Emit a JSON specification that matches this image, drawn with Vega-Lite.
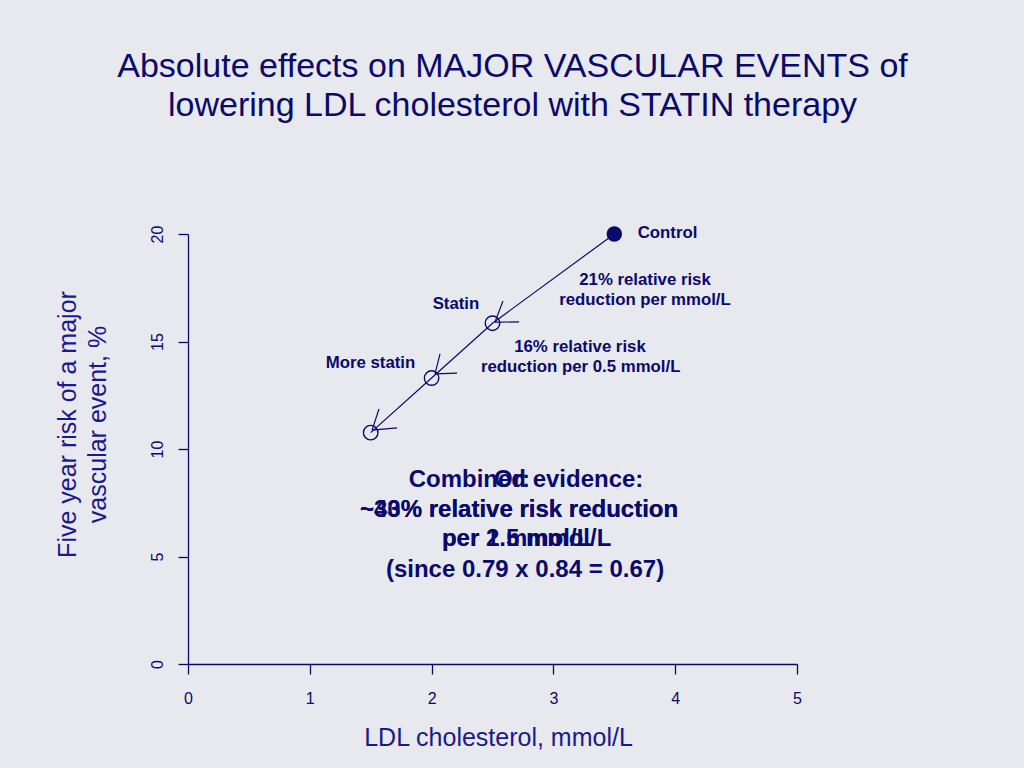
{
  "$schema": "https://vega.github.io/schema/vega-lite/v6.json",
  "width": 609,
  "height": 430,
  "autosize": {"type": "none"},
  "padding": {"left": 188, "top": 234, "right": 227, "bottom": 104},
  "background": "#E8E8EF",
  "title": {
    "text": ["Absolute effects on MAJOR VASCULAR EVENTS of", "lowering LDL cholesterol with STATIN therapy"],
    "font": "Liberation Sans",
    "fontSize": 34,
    "fontWeight": "normal",
    "color": "#0A0A6A",
    "lineHeight": 39,
    "anchor": "middle",
    "frame": "group",
    "offset": 102,
    "dx": 20
  },
  "config": {
    "view": {"stroke": null},
    "axis": {
      "domainColor": "#0A0A6A",
      "domainWidth": 1.3,
      "tickColor": "#0A0A6A",
      "tickWidth": 1.3,
      "tickSize": 10,
      "labelColor": "#0A0A6A",
      "labelFont": "Liberation Sans",
      "labelFontSize": 16,
      "labelFlush": false,
      "titleFont": "Liberation Sans",
      "titleFontSize": 25,
      "titleFontWeight": "normal",
      "titleColor": "#1A1A8C",
      "grid": false
    }
  },
  "datasets": {
    "curve": [
      {"x": 3.5, "y": 20},
      {"x": 2.5, "y": 15.85},
      {"x": 2.0, "y": 13.3},
      {"x": 1.5, "y": 10.76}
    ],
    "points": [
      {"x": 3.5, "y": 20, "group": "Control"},
      {"x": 2.5, "y": 15.85, "group": "Statin"},
      {"x": 2.0, "y": 13.3, "group": "More statin"},
      {"x": 1.5, "y": 10.76, "group": "Most statin"}
    ],
    "arrows": [
      {"x": 2.52, "y": 15.9, "x2": 2.586, "y2": 16.88},
      {"x": 2.52, "y": 15.9, "x2": 2.718, "y2": 15.91},
      {"x": 2.028, "y": 13.49, "x2": 2.069, "y2": 14.42},
      {"x": 2.028, "y": 13.49, "x2": 2.209, "y2": 13.53},
      {"x": 1.511, "y": 10.88, "x2": 1.568, "y2": 11.86},
      {"x": 1.511, "y": 10.88, "x2": 1.716, "y2": 10.98}
    ],
    "labels": [
      {"x": 3.692, "y": 20.06, "label": "Control", "kind": "small-left"},
      {"x": 3.752, "y": 17.86, "label": "21% relative risk", "kind": "small"},
      {"x": 3.752, "y": 16.93, "label": "reduction per mmol/L", "kind": "small"},
      {"x": 2.2, "y": 16.74, "label": "Statin", "kind": "small"},
      {"x": 3.218, "y": 14.76, "label": "16% relative risk", "kind": "small"},
      {"x": 3.224, "y": 13.83, "label": "reduction per 0.5 mmol/L", "kind": "small"},
      {"x": 1.498, "y": 13.99, "label": "More statin", "kind": "small"},
      {"x": 2.775, "y": 8.558, "label": "Combined evidence:", "kind": "big"},
      {"x": 2.66, "y": 8.558, "label": "Or:", "kind": "big"},
      {"x": 2.718, "y": 7.163, "label": "~33% relative risk reduction", "kind": "big"},
      {"x": 2.718, "y": 7.163, "label": "~40% relative risk reduction", "kind": "big"},
      {"x": 2.085, "y": 5.8, "label": "per 1.5 mmol/L", "kind": "big-left"},
      {"x": 2.085, "y": 5.8, "label": "per 2 mmol/L", "kind": "big-left"},
      {"x": 2.767, "y": 4.372, "label": "(since 0.79 x 0.84 = 0.67)", "kind": "big"}
    ]
  },
  "encoding": {
    "x": {
      "field": "x",
      "type": "quantitative",
      "scale": {"domain": [0, 5], "nice": false, "zero": false},
      "axis": {
        "values": [0, 1, 2, 3, 4, 5],
        "format": "d",
        "labelPadding": 16,
        "title": "LDL cholesterol, mmol/L",
        "titleX": 310,
        "titleY": 73,
        "titleBaseline": "middle",
        "titleAlign": "center"
      }
    },
    "y": {
      "field": "y",
      "type": "quantitative",
      "scale": {"domain": [0, 20], "nice": false, "zero": false},
      "axis": {
        "values": [0, 5, 10, 15, 20],
        "format": "d",
        "labelAngle": -90,
        "labelAlign": "center",
        "labelBaseline": "bottom",
        "labelPadding": 13,
        "title": ["Five year risk of a major", "vascular event, %"],
        "titleAngle": -90,
        "titleX": -121,
        "titleY": 190,
        "titleAlign": "center",
        "titleBaseline": "middle",
        "titleLineHeight": 30
      }
    }
  },
  "layer": [
    {
      "data": {"name": "curve"},
      "mark": {"type": "line", "color": "#0A0A6A", "strokeWidth": 1.2}
    },
    {
      "data": {"name": "arrows"},
      "mark": {"type": "rule", "color": "#0A0A6A", "strokeWidth": 1.2},
      "encoding": {
        "x2": {"field": "x2"},
        "y2": {"field": "y2"}
      }
    },
    {
      "data": {"name": "points"},
      "transform": [{"filter": "datum.group !== 'Control'"}],
      "mark": {"type": "point", "shape": "circle", "filled": false, "size": 210, "strokeWidth": 1.4, "color": "#0A0A6A", "opacity": 1}
    },
    {
      "data": {"name": "points"},
      "transform": [{"filter": "datum.group === 'Control'"}],
      "mark": {"type": "point", "shape": "circle", "filled": true, "size": 240, "color": "#0A0A6A", "opacity": 1}
    },
    {
      "data": {"name": "labels"},
      "transform": [{"filter": "datum.kind === 'small'"}],
      "mark": {"type": "text", "font": "Liberation Sans", "fontSize": 16.8, "fontWeight": "bold", "color": "#0A0A6A", "align": "center", "baseline": "middle"},
      "encoding": {"text": {"field": "label"}}
    },
    {
      "data": {"name": "labels"},
      "transform": [{"filter": "datum.kind === 'small-left'"}],
      "mark": {"type": "text", "font": "Liberation Sans", "fontSize": 16.8, "fontWeight": "bold", "color": "#0A0A6A", "align": "left", "baseline": "middle"},
      "encoding": {"text": {"field": "label"}}
    },
    {
      "data": {"name": "labels"},
      "transform": [{"filter": "datum.kind === 'big'"}],
      "mark": {"type": "text", "font": "Liberation Sans", "fontSize": 24, "fontWeight": "bold", "color": "#0A0A6A", "align": "center", "baseline": "middle"},
      "encoding": {"text": {"field": "label"}}
    },
    {
      "data": {"name": "labels"},
      "transform": [{"filter": "datum.kind === 'big-left'"}],
      "mark": {"type": "text", "font": "Liberation Sans", "fontSize": 24, "fontWeight": "bold", "color": "#0A0A6A", "align": "left", "baseline": "middle"},
      "encoding": {"text": {"field": "label"}}
    }
  ]
}
